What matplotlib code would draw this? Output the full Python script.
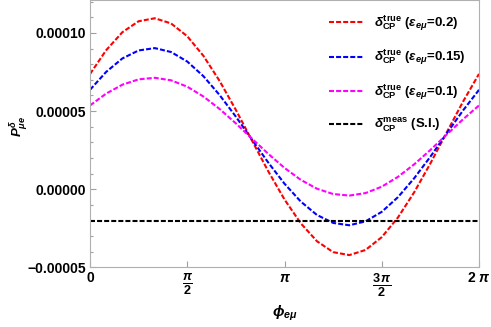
import numpy as np
import matplotlib
matplotlib.use('Agg')
import matplotlib.pyplot as plt
from matplotlib.ticker import MultipleLocator

plt.rcParams['font.family'] = ['Liberation Sans', 'DejaVu Sans']
plt.rcParams['font.weight'] = 'bold'
plt.rcParams['mathtext.fontset'] = 'custom'
plt.rcParams['mathtext.rm'] = 'Liberation Sans:bold'
plt.rcParams['mathtext.it'] = 'Liberation Sans:bold:italic'
plt.rcParams['mathtext.bf'] = 'Liberation Sans:bold'

# phase in degrees, step 15 deg (0 .. 360)
phi_deg = list(range(0, 361, 15))

# P values, units of 1e-5
p_eps02 = [7.37, 8.90, 10.05, 10.75, 10.94, 10.61, 9.79, 8.53, 6.92, 5.07, 3.10, 1.14,
           -0.66, -2.18, -3.33, -4.03, -4.22, -3.89, -3.07, -1.81, -0.20, 1.65, 3.62, 5.58, 7.38]
p_eps015 = [6.36, 7.51, 8.37, 8.88, 9.03, 8.78, 8.17, 7.23, 6.02, 4.64, 3.16, 1.70,
            0.35, -0.79, -1.65, -2.16, -2.31, -2.06, -1.45, -0.51, 0.70, 2.08, 3.56, 5.02, 6.36]
p_eps01 = [5.36, 6.12, 6.69, 7.03, 7.13, 6.97, 6.56, 5.93, 5.13, 4.21, 3.23, 2.26,
           1.36, 0.60, 0.03, -0.31, -0.41, -0.25, 0.16, 0.79, 1.59, 2.51, 3.49, 4.46, 5.36]
p_meas = -2.05

labels = [r'$\delta_{\mathrm{CP}}^{\mathrm{true}}$ ($\epsilon_{e\mu}$=0.2)',
          r'$\delta_{\mathrm{CP}}^{\mathrm{true}}$ ($\epsilon_{e\mu}$=0.15)',
          r'$\delta_{\mathrm{CP}}^{\mathrm{true}}$ ($\epsilon_{e\mu}$=0.1)',
          r'$\delta_{\mathrm{CP}}^{\mathrm{meas}}$ (S.I.)']

xticks = [0, np.pi/2, np.pi, 3*np.pi/2, 2*np.pi]
xticklabels = ['0', r'$\frac{\pi}{2}$', r'$\pi$', r'$\frac{3\,\pi}{2}$', r'$2\ \pi$']
yticks = [-0.00005, 0.0, 0.00005, 0.00010]
yticklabels = ['\u22120.00005', '0.00000', '0.00005', '0.00010']

x = np.deg2rad(phi_deg)
scale = 1e-5

fig = plt.figure(figsize=(4.91, 3.27), dpi=100)
ax = fig.add_axes([0.1833, 0.1826, 0.7923, 0.8160])

ls = (0, (2.4, 1.0))
ax.plot(x, np.array(p_eps02)*scale, color='#ff0000', lw=1.5, ls=ls, label=labels[0])
ax.plot(x, np.array(p_eps015)*scale, color='#0000ff', lw=1.5, ls=ls, label=labels[1])
ax.plot(x, np.array(p_eps01)*scale, color='#ff00ff', lw=1.5, ls=ls, label=labels[2])
ax.axhline(p_meas*scale, color='black', lw=1.5, ls=ls, label=labels[3])

ax.set_xlim(0, 2*np.pi)
ax.set_ylim(-0.00005, 0.0001208)

ax.set_xticks(xticks)
ax.set_xticklabels(xticklabels, fontsize=10)
for i, t in enumerate(ax.get_xticklabels()):
    if i in (1, 3):
        t.set_fontsize(13)
ax.set_yticks(yticks)
ax.set_yticklabels(yticklabels, fontsize=10, fontweight='bold')
ax.yaxis.set_minor_locator(MultipleLocator(0.00001))

for s in ax.spines.values():
    s.set_color('#b0b0b0')
ax.tick_params(which='both', direction='in', color='#a0a0a0', top=False, right=False)
ax.tick_params(which='major', length=4, width=0.8, pad=3)
ax.tick_params(which='minor', length=2.2, width=0.8)

ax.set_ylabel(r'$P_{\mu e}^{\delta}$', fontsize=9.5)
ax.yaxis.set_label_coords(-0.155, 0.53)
ax.set_xlabel(r'$\phi_{e\mu}$', fontsize=11)
ax.xaxis.set_label_coords(0.5, -0.135)

leg = ax.legend(loc='upper right', frameon=False, fontsize=9.5, handlelength=2.6,
                handletextpad=0.8, labelspacing=1.15, borderaxespad=0.6)

fig.savefig('out.png', dpi=100)
